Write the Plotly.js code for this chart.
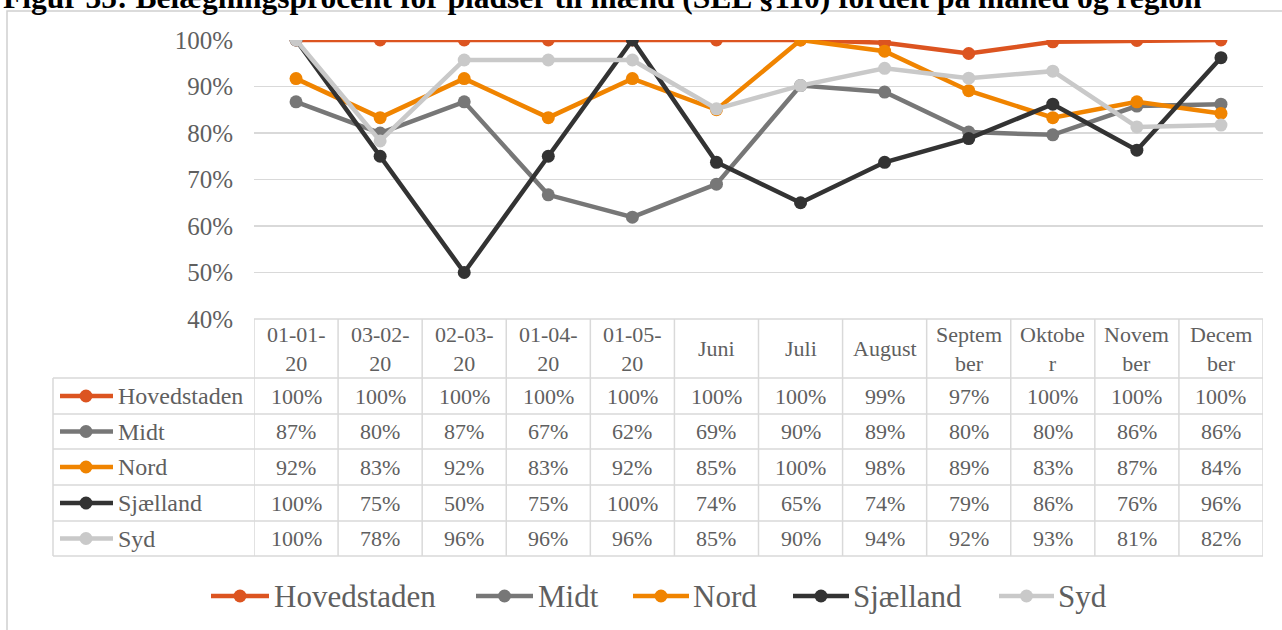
<!DOCTYPE html>
<html>
<head>
<meta charset="utf-8">
<script src="https://cdn.plot.ly/plotly-3.0.1.min.js"></script>
<style>html,body{margin:0;padding:0;background:#fff;}#chart{width:1282px;height:630px;}</style>
</head>
<body>
<div id="chart"></div>
<script>
// ---------- data ----------
const titleText = "Figur 35: Belægningsprocent for pladser til mænd (SEL §110) fordelt på måned og region";
const categories = ["01-01-20","03-02-20","02-03-20","01-04-20","01-05-20","Juni","Juli","August","September","Oktober","November","December"];
const headerLabels = ["01-01-<br>20","03-02-<br>20","02-03-<br>20","01-04-<br>20","01-05-<br>20","Juni","Juli","August","Septem<br>ber","Oktobe<br>r","Novem<br>ber","Decem<br>ber"];
const seriesNames = ["Hovedstaden","Midt","Nord","Sjælland","Syd"];
const hovedstaden = [100,100,100,100,100,100,100,99.4,97.1,99.6,99.9,100];
const midt        = [86.7,80.0,86.7,66.7,61.9,69.0,90.2,88.8,80.2,79.6,85.8,86.2];
const nord        = [91.7,83.3,91.7,83.3,91.7,85.0,100,97.6,89.1,83.3,86.7,84.2];
const sjaelland   = [100,75,50,75,100,73.7,65.0,73.7,78.8,86.2,76.3,96.2];
const syd         = [100,78.3,95.7,95.7,95.7,85.2,90.2,93.9,91.8,93.3,81.3,81.7];
const yTicks = [40,50,60,70,80,90,100];

// ---------- styling / layout constants ----------
const seriesValues = [hovedstaden, midt, nord, sjaelland, syd];
const colors = ["#DC5420","#777777","#F08400","#333333","#C9C9C9"];
const FONT = "'Liberation Serif', 'Times New Roman', serif";
const TXT = "#5f5f5f";
const GRID = "#D9D9D9";
const W = 1282, H = 630;
const L = 254, R = 1263, T = 40, B = 319;
const px = x => (x - L) / (R - L);
const py = y => (B - y) / (B - T);

const headerBottom = 378;
const rowBounds = [378, 414, 449, 485, 521, 556];
const tableLeft = 53;
const legendY = 596;
const legendItems = [ // line start, line end, text start (pixels)
  [211, 269, 272], [476, 533, 536], [633, 689, 691], [793, 849, 851], [999, 1054, 1056]
];

// ---------- traces ----------
const traces = seriesNames.map((name, i) => ({
  type: "scatter", mode: "lines+markers", name: name,
  x: categories, y: seriesValues[i],
  line: {color: colors[i], width: 4.5},
  marker: {color: colors[i], size: 13},
  showlegend: false, hoverinfo: "x+y+name"
}));

// ---------- shapes & annotations ----------
const shapes = [];
const annotations = [];
const line = (x0, y0, x1, y1, color, width) =>
  shapes.push({type: "line", xref: "paper", yref: "paper", x0, y0, x1, y1,
               line: {color, width}, layer: "below"});

// outer frame
shapes.push({type: "rect", xref: "paper", yref: "paper", x0: px(7), x1: px(1295), y0: py(11), y1: py(645),
             line: {color: "#D0D0D0", width: 1.5}, fillcolor: "rgba(0,0,0,0)", layer: "below"});

// title (clipped at the top as in the reference)
annotations.push({xref: "paper", yref: "paper", x: px(1), y: py(-3), xanchor: "left", yanchor: "middle",
  text: "<b>" + titleText + "</b>", showarrow: false, font: {family: FONT, size: 31.5, color: "#000"}});

// table grid
line(px(L), py(B), px(R), py(B), GRID, 1.5);
rowBounds.forEach(yb => line(px(tableLeft), py(yb), px(R), py(yb), GRID, 1.5));
line(px(tableLeft), py(headerBottom), px(tableLeft), py(rowBounds[rowBounds.length-1]), GRID, 1.5);
for (let k = 0; k <= categories.length; k++) {
  shapes.push({type: "line", xref: "x", yref: "paper", x0: k - 0.5, x1: k - 0.5,
    y0: py(B), y1: py(rowBounds[rowBounds.length-1]), line: {color: GRID, width: 1.5}, layer: "below"});
}

// header labels
categories.forEach((c, k) => {
  annotations.push({xref: "x", yref: "paper", x: c, y: py((B + headerBottom) / 2),
    xanchor: "center", yanchor: "middle", text: headerLabels[k], showarrow: false,
    font: {family: FONT, size: 22, color: TXT}});
});

// rows
seriesNames.forEach((name, i) => {
  const yc = (rowBounds[i] + rowBounds[i+1]) / 2;
  line(px(60), py(yc), px(113), py(yc), colors[i], 4.5);
  shapes.push({type: "circle", xref: "paper", yref: "paper", x0: px(86 - 6.5), x1: px(86 + 6.5),
    y0: py(yc - 6.5), y1: py(yc + 6.5), fillcolor: colors[i], line: {width: 0}, layer: "above"});
  annotations.push({xref: "paper", yref: "paper", x: px(116), y: py(yc), xanchor: "left", yanchor: "middle",
    text: name, showarrow: false, font: {family: FONT, size: 24, color: TXT}});
  seriesValues[i].forEach((v, k) => {
    annotations.push({xref: "x", yref: "paper", x: categories[k], y: py(yc), xanchor: "center", yanchor: "middle",
      text: Math.round(v) + "%", showarrow: false, font: {family: FONT, size: 22, color: TXT}});
  });
});

// legend
seriesNames.forEach((name, i) => {
  const [a, b, t] = legendItems[i];
  line(px(a), py(legendY), px(b), py(legendY), colors[i], 4.5);
  const mx = (a + b) / 2;
  shapes.push({type: "circle", xref: "paper", yref: "paper", x0: px(mx - 6.5), x1: px(mx + 6.5),
    y0: py(legendY - 6.5), y1: py(legendY + 6.5), fillcolor: colors[i], line: {width: 0}, layer: "above"});
  annotations.push({xref: "paper", yref: "paper", x: px(t), y: py(legendY), xanchor: "left", yanchor: "middle",
    text: name, showarrow: false, font: {family: FONT, size: 31, color: TXT}});
});

const layout = {
  width: W, height: H,
  margin: {l: L, r: W - R, t: T, b: H - B, pad: 0},
  paper_bgcolor: "#fff", plot_bgcolor: "#fff",
  font: {family: FONT, color: TXT},
  showlegend: false,
  xaxis: {type: "category", range: [-0.5, categories.length - 0.5], showticklabels: false,
          showgrid: false, zeroline: false, showline: false, ticks: "", fixedrange: true},
  yaxis: {range: [40, 100], tickvals: yTicks, ticktext: yTicks.map(v => v + "%"),
          showgrid: true, gridcolor: GRID, gridwidth: 1.5, zeroline: false, showline: false,
          ticks: "", ticklabelstandoff: 20, tickfont: {family: FONT, size: 25, color: TXT}, fixedrange: true},
  shapes: shapes,
  annotations: annotations
};

Plotly.newPlot("chart", traces, layout, {displayModeBar: false, staticPlot: true});
</script>
</body>
</html>
